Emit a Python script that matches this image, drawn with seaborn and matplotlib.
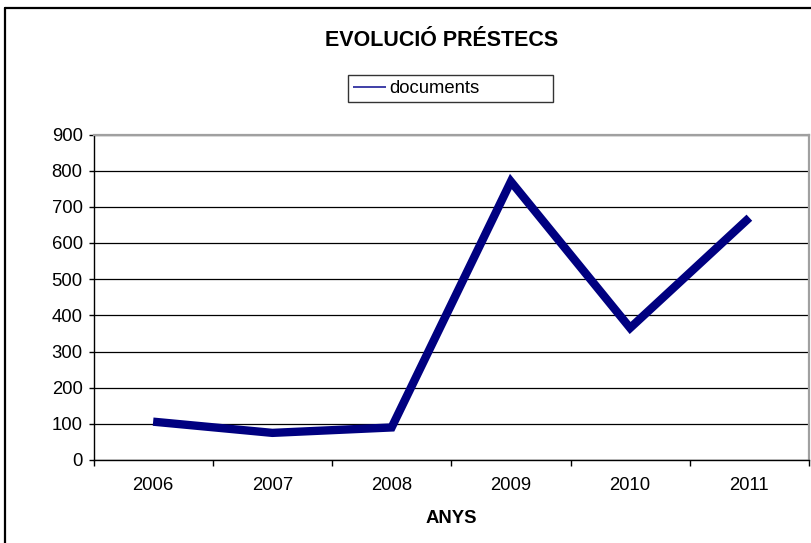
import matplotlib
matplotlib.use("Agg")
import matplotlib.pyplot as plt
from matplotlib.lines import Line2D
from matplotlib.ticker import FixedLocator, MultipleLocator
import pandas as pd
import seaborn as sns

# Chart data
years = ["2006", "2007", "2008", "2009", "2010", "2011"]
documents = [106, 75, 90, 770, 365, 670]

title = "EVOLUCIÓ PRÉSTECS"
series_name = "documents"
x_label = "ANYS"

df = pd.DataFrame({"any": years, series_name: documents})

sns.set_theme(style="white")
plt.rcParams['font.family'] = ['Liberation Sans', 'DejaVu Sans']

W, H = 811, 543
fig = plt.figure(figsize=(W / 100, H / 100), dpi=100)
fig.patch.set_facecolor("white")

FS = 13.3

# plot area in pixel coords
left, right, top, bottom = 93.5, 809, 134.5, 460
ax = fig.add_axes([left / W, 1 - bottom / H, (right - left) / W, (bottom - top) / H])

sns.lineplot(data=df, x="any", y=series_name, ax=ax, color="#000080",
             linewidth=6, label=series_name, sort=False)
for ln in ax.get_lines():
    ln.set_solid_joinstyle("miter")
    ln.set_solid_capstyle("butt")

ax.set_xlim(-0.5, len(years) - 0.5)
ax.set_ylim(0, 900)
ax.yaxis.set_major_locator(MultipleLocator(100))
ax.grid(axis="y", color="black", linewidth=0.9)
ax.grid(axis="x", visible=False)
ax.set_axisbelow(True)

# category boundary ticks on x
ax.xaxis.set_minor_locator(FixedLocator([i - 0.5 for i in range(len(years) + 1)]))
ax.tick_params(axis="x", which="major", length=0, pad=12, labelsize=FS, colors="black")
ax.tick_params(axis="x", which="minor", length=4, width=1, color="black", direction="out", bottom=True)
ax.tick_params(axis="y", which="major", length=3.5, width=1, color="black", direction="out",
               left=True, pad=4.3, labelsize=FS, labelcolor="black")

for side in ["left", "bottom"]:
    ax.spines[side].set_color("black")
    ax.spines[side].set_linewidth(1.0)
for side in ["top", "right"]:
    ax.spines[side].set_visible(True)
    ax.spines[side].set_color("#a0a0a0")
    ax.spines[side].set_linewidth(1.6)

ax.set_xlabel(x_label, fontsize=FS, fontweight="bold", color="black", labelpad=12)
ax.set_ylabel("")

fig.text(442 / W, 1 - 41 / H, title, ha="center", va="center",
         fontsize=15.5, fontweight="bold", color="black")

leg = ax.legend(loc="center", bbox_to_anchor=(348 / W, 1 - 103.5 / H, 205 / W, 30 / H),
                bbox_transform=fig.transFigure, mode="expand", frameon=True,
                fancybox=False, shadow=False, fontsize=FS, handlelength=1.8,
                handletextpad=0.2, borderpad=0.25, borderaxespad=0)
leg.get_frame().set_edgecolor("black")
leg.get_frame().set_linewidth(1.0)
leg.get_lines()[0].set_linewidth(1.3)
leg.get_lines()[0].set_color("#3030a0")
for t in leg.get_texts():
    t.set_color("black")

# outer chart border (only left and top visible in the picture)
fig.add_artist(Line2D([5 / W, 5 / W], [0, 1 - 8 / H], transform=fig.transFigure,
                      color="black", linewidth=1.6))
fig.add_artist(Line2D([5 / W, 1], [1 - 8 / H, 1 - 8 / H], transform=fig.transFigure,
                      color="black", linewidth=1.6))

fig.savefig("out.png", dpi=100)
